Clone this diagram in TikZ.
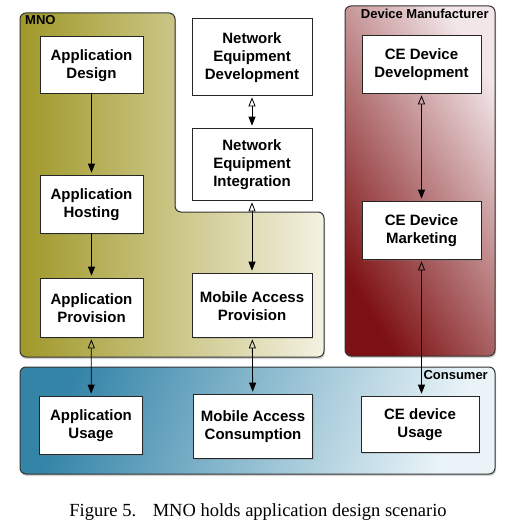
\documentclass[tikz,border=0pt]{standalone}
\usepackage{fontspec}
\setmainfont{Liberation Serif}
\setsansfont{Liberation Sans}
\usepackage{tikz}
\usetikzlibrary{arrows.meta, shadows, positioning}

\definecolor{mnodark}{RGB}{160,152,40}
\definecolor{mnolight}{RGB}{244,242,226}
\definecolor{devdark}{RGB}{125,16,18}
\definecolor{devlight}{RGB}{242,230,232}
\definecolor{condark}{RGB}{52,132,168}
\definecolor{conlight}{RGB}{234,244,248}

\begin{document}
\begin{tikzpicture}[x=1pt,y=-1pt,
	every node/.style={inner sep=0pt},
	stage/.style={draw=black!85, fill=white, line width=0.7pt, align=center,
		font=\sffamily\bfseries\fontsize{15}{18}\selectfont,
		drop shadow={opacity=.25,shadow xshift=1pt,shadow yshift=-1.5pt}},
	party/.style={draw=black!80, line width=1pt, rounded corners=6pt,
		drop shadow={opacity=.35,shadow xshift=1pt,shadow yshift=-2pt}},
	partylabel/.style={font=\sffamily\bfseries\fontsize{13}{15}\selectfont},
	flow/.style={-{Triangle[length=9pt,width=7pt]}, line width=0.8pt, shorten >=2pt},
	link/.style={{Triangle[open,length=9pt,width=7pt]}-{Triangle[length=9pt,width=7pt]},
		line width=0.8pt, shorten >=2pt, shorten <=2pt}]
	\useasboundingbox (0,0) rectangle (517,529);

	\draw[party, left color=mnodark, right color=mnolight]
		(20,13) -- (175,13) -- (175,212) -- (324,212) -- (324,357) -- (20,357) -- cycle;
	\draw[party, top color=devlight, bottom color=devdark, shading angle=-58]
		(345,6) rectangle (495,356);
	\draw[party, top color=condark, bottom color=conlight, shading angle=70]
		(20,367) rectangle (495,474);

	\node[partylabel, anchor=west] (mnolabel) at (25,20) {MNO};
	\node[partylabel, anchor=east] (devlabel) at (489,14) {Device Manufacturer};
	\node[partylabel, anchor=east] (conlabel) at (488,375) {Consumer};

	\node[stage, minimum width=103pt, minimum height=57pt] (appdesign) at (91.5,64.5) {\strut Application\\Design};
	\node[stage, minimum width=103pt, minimum height=58pt] (apphosting) at (91.5,204) {\strut Application\\Hosting};
	\node[stage, minimum width=103pt, minimum height=59pt] (appprov) at (91.5,307.5) {\strut Application\\Provision};
	\node[stage, minimum width=103pt, minimum height=58pt] (appusage) at (91,425) {\strut Application\\Usage};

	\node[stage, minimum width=120pt, minimum height=77pt] (netdev) at (252,56.5) {\strut Network\\Equipment\\Development};
	\node[stage, minimum width=120pt, minimum height=72pt] (netint) at (252,164) {\strut Network\\Equipment\\Integration};
	\node[stage, minimum width=120pt, minimum height=64pt] (mobprov) at (252,305) {\strut Mobile Access\\Provision};
	\node[stage, minimum width=119pt, minimum height=64pt] (mobcons) at (253,426) {\strut Mobile Access\\Consumption};

	\node[stage, minimum width=119pt, minimum height=58pt] (cedev) at (421.5,64) {\strut CE Device\\Development};
	\node[stage, minimum width=119pt, minimum height=58pt] (cemark) at (421.5,230) {\strut CE Device\\Marketing};
	\node[stage, minimum width=118pt, minimum height=56pt] (ceusage) at (420,424) {\strut CE device\\Usage};

	\draw[flow] (appdesign) -- (apphosting);
	\draw[flow] (apphosting) -- (appprov);
	\draw[link] (appprov) -- (appusage);
	\draw[link] (netdev) -- (netint);
	\draw[link] (netint) -- (mobprov);
	\draw[link] (mobprov) -- (mobcons);
	\draw[link] (cedev) -- (cemark);
	\draw[link] (cemark.south) -- (cemark.south |- ceusage.north);

	\node[font=\fontsize{18.5}{22}\selectfont] (caption) at (258,512)
		{Figure 5.\hspace{0.9em}MNO holds application design scenario};
\end{tikzpicture}
\end{document}
